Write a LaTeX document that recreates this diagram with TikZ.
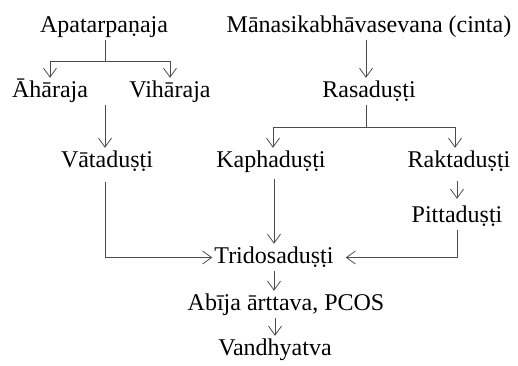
\documentclass[tikz,border=0pt]{standalone}
\usepackage{fontspec}
\setmainfont{Liberation Serif}
\usetikzlibrary{arrows.meta}

\begin{document}
\begin{tikzpicture}[x=1pt, y=-1pt,
        term/.style={anchor=base, inner sep=2pt, text height=17pt, text depth=6pt,
            font=\fontsize{24}{28}\selectfont, text=black},
        link/.style={draw=black!70, line width=0.8pt},
        arr/.style={link, -{Straight Barb[length=9pt, width=13pt]}}]
        \useasboundingbox (0,0) rectangle (518,365);

        \node[term] (apa) at (104,32) {Apatarpaṇaja};
        \node[term] (manas) at (369,32) {Mānasikabhāvasevana (cinta)};
        \node[term] (ahara) at (50,97) {Āhāraja};
        \node[term] (vihara) at (170,97) {Vihāraja};
        \node[term] (rasa) at (369,97) {Rasaduṣṭi};
        \node[term] (vata) at (107,167) {Vātaduṣṭi};
        \node[term] (kapha) at (271,167) {Kaphaduṣṭi};
        \node[term] (rakta) at (459,167) {Raktaduṣṭi};
        \node[term] (pitta) at (457,222) {Pittaduṣṭi};
        \node[term] (tri) at (274,263) {Tridosaduṣṭi};
        \node[term] (abija) at (286,310) {Abīja ārttava, PCOS};
        \node[term] (vand) at (275,355) {Vandhyatva};

        \coordinate (split1) at (105,61);
        \coordinate (diet) at (105,105);
        \coordinate (split2) at (366,127);

        \draw[link] (apa.south -| split1) -- (split1);
        \draw[arr] (split1) -| (ahara);
        \draw[arr] (split1) -| (vihara);
        \draw[arr] (diet) -- (diet |- vata.north);

        \draw[arr] (manas.south -| split2) -- (split2 |- rasa.north);
        \draw[link] (rasa.south -| split2) -- (split2);
        \draw[arr] (split2) -| (273,0 |- kapha.north);
        \draw[arr] (split2) -| (455,0 |- rakta.north);
        \draw[arr, shorten <=6pt, shorten >=4pt] (rakta.south -| pitta) -- (pitta);

        \draw[arr, shorten <=7pt] (vata.south -| diet) |- (tri);
        \draw[arr, shorten <=4pt] (kapha.south -| tri) -- (tri);
        \draw[arr, shorten >=10pt] (pitta) |- (tri);

        \draw[arr] (tri) -- (tri |- abija.north);
        \draw[arr] (abija.south -| vand) -- (vand);
\end{tikzpicture}
\end{document}
